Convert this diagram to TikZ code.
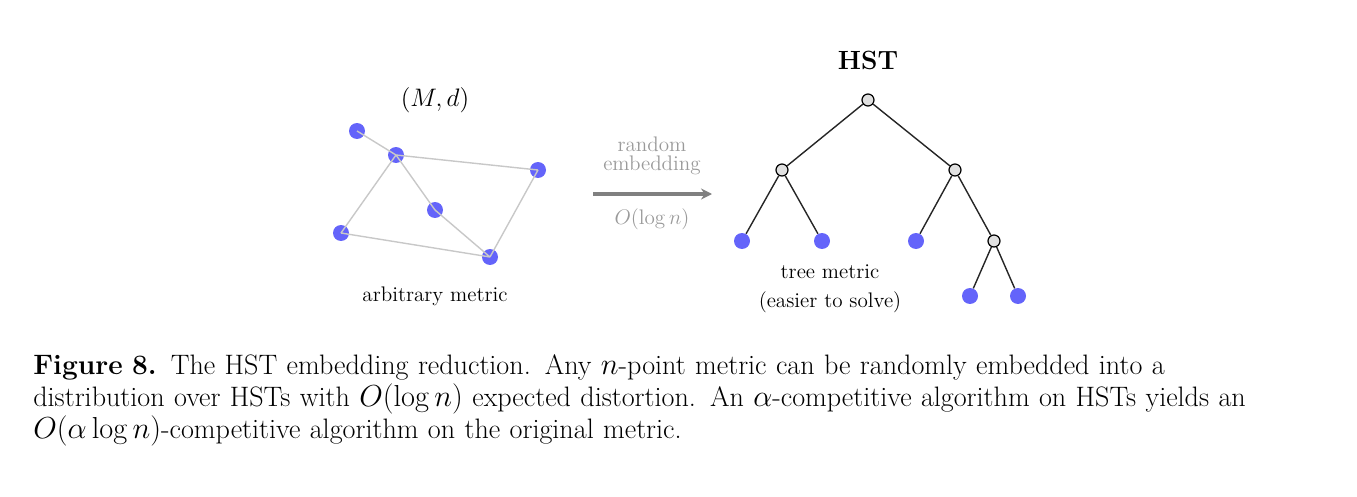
\documentclass[tikz,border=0pt]{standalone}
\usepackage{amsmath,amssymb}
\usepackage{xcolor}
\usepackage{tikz}
\usetikzlibrary{arrows.meta}
\definecolor{pt}{HTML}{6464FA}
\definecolor{edge}{HTML}{C8C8C8}
\definecolor{muted}{HTML}{9A9A9A}
\definecolor{arrowc}{HTML}{808080}
\tikzset{
  dot/.style={circle, fill=pt, inner sep=0pt, minimum size=3.2mm},
  inner/.style={circle, draw=black, fill=black!12, line width=0.7pt, inner sep=0pt, minimum size=2.4mm},
  metric/.style={draw=edge, line width=0.8pt},
  treeedge/.style={draw=black!85, line width=0.8pt},
  lab/.style={font=\large},
  labm/.style={text=muted, font=\large, align=center},
}
\begin{document}
\begin{tikzpicture}[x=0.02cm,y=-0.02cm]
  \useasboundingbox (0,0) rectangle (1357,497);
  % metric space
  \node[dot] (m1) at (357,131) {};
  \node[dot] (m2) at (396,155) {};
  \node[dot] (m3) at (538,170) {};
  \node[dot] (m4) at (435,210) {};
  \node[dot] (m5) at (341,233) {};
  \node[dot] (m6) at (490,257) {};
  \draw[metric] (m1.center)--(m2.center) (m2.center)--(m3.center) (m2.center)--(m5.center)
    (m2.center)--(m4.center)--(m6.center) (m5.center)--(m6.center) (m3.center)--(m6.center);
  \node[lab, font=\fontsize{15}{18}\selectfont] (md) at (435,100) {$(M,d)$};
  \node[lab] (arb) at (435,296) {arbitrary metric};

  % arrow
  \coordinate (a0) at (593,194);
  \coordinate (a1) at (712,194);
  \draw[arrowc, line width=2pt, -{Stealth[length=2.2mm,width=2.2mm]}] (a0)--(a1);
  \node[labm] (emb) at (652,156) {random\\[-3pt]embedding};
  \node[labm] (cost) at (652,219) {$O(\log n)$};

  % tree
  \node[inner] (r) at (868,100) {};
  \node[inner] (u) at (782,170) {};
  \node[inner] (v) at (955,170) {};
  \node[inner] (w) at (994,241) {};
  \node[dot] (l1) at (742,241) {};
  \node[dot] (l2) at (822,241) {};
  \node[dot] (l3) at (916,241) {};
  \node[dot] (l4) at (970,296) {};
  \node[dot] (l5) at (1018,296) {};
  \draw[treeedge] (r)--(u) (r)--(v) (u)--(l1) (u)--(l2) (v)--(l3) (v)--(w) (w)--(l4) (w)--(l5);
  \node[lab, font=\fontsize{15}{18}\selectfont\bfseries] (hst) at (868,60) {HST};
  \node[lab] (tm) at (830,272) {tree metric};
  \node[lab] (easy) at (830,302) {(easier to solve)};

  % caption
  \node[anchor=north west, inner sep=0pt, text width=258mm, align=left, font=\fontsize{16}{18.2}\selectfont] (cap) at (33,354)
    {\textbf{Figure 8.} The HST embedding reduction. Any $n$-point metric can be randomly embedded into a\\ distribution over HSTs with $O(\log n)$ expected distortion. An $\alpha$-competitive algorithm on HSTs yields an\\ $O(\alpha\log n)$-competitive algorithm on the original metric.};
\end{tikzpicture}
\end{document}
